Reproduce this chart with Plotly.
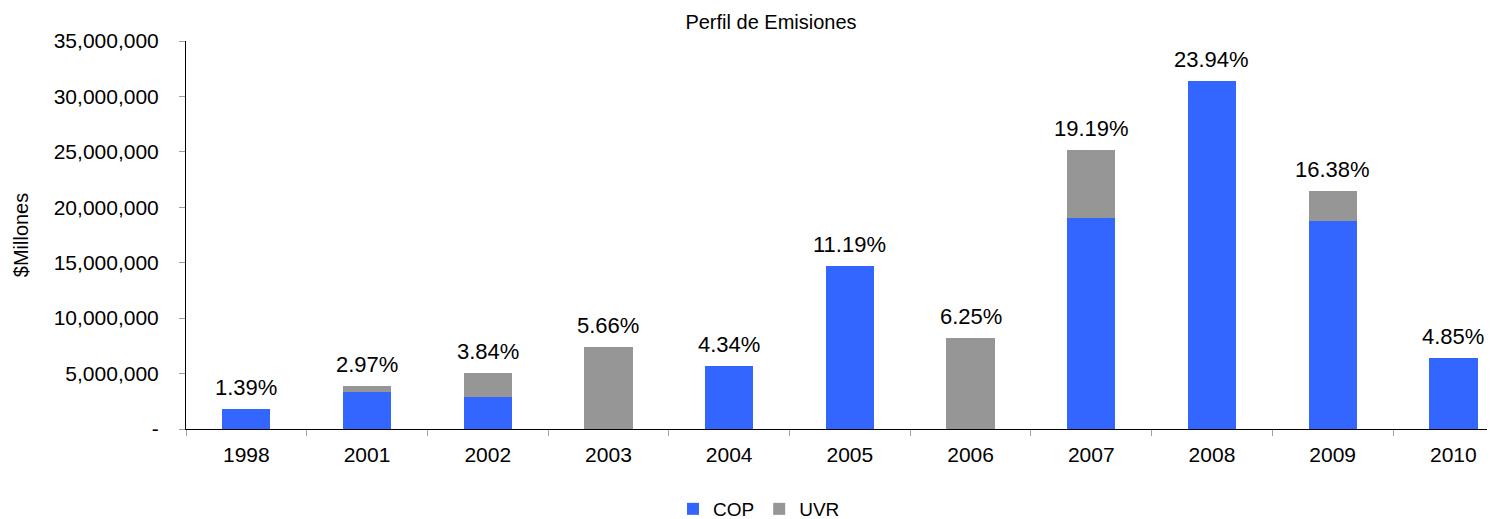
import plotly.graph_objects as go

years = ["1998", "2001", "2002", "2003", "2004", "2005", "2006", "2007", "2008", "2009", "2010"]
cop = [1.82e6, 3.34e6, 2.92e6, 0, 5.69e6, 14.68e6, 0, 19.06e6, 31.42e6, 18.76e6, 6.36e6]
uvr = [0, 0.52e6, 2.10e6, 7.43e6, 0, 0, 8.20e6, 6.12e6, 0, 2.72e6, 0]
pct_labels = ["1.39%", "2.97%", "3.84%", "5.66%", "4.34%", "11.19%", "6.25%", "19.19%", "23.94%", "16.38%", "4.85%"]
ytick_vals = [0, 5e6, 10e6, 15e6, 20e6, 25e6, 30e6, 35e6]
ytick_text = ["-", "5,000,000", "10,000,000", "15,000,000", "20,000,000", "25,000,000", "30,000,000", "35,000,000"]

FONT = "Liberation Sans, Arial, sans-serif"
OFF = 8  # page body margin
W, H = 1495 - OFF, 519 - OFF
L, R, T, B = 186 - OFF, 0, 41 - OFF, 90
PW, PH = W - L - R, H - T - B

fig = go.Figure()
fig.add_trace(go.Bar(x=years, y=cop, name="COP", marker=dict(color="#3366FF", line=dict(width=0)), width=0.4))
fig.add_trace(go.Bar(x=years, y=uvr, name="UVR", marker=dict(color="#969696", line=dict(width=0)), width=0.4))

totals = [c + u for c, u in zip(cop, uvr)]
for i, (tot, lab) in enumerate(zip(totals, pct_labels)):
    fig.add_annotation(x=i, y=tot, xref="x", yref="y", text=lab, showarrow=False, yanchor="bottom",
                       xanchor="center", yshift=7, font=dict(family=FONT, size=22, color="#000000"))

fig.update_layout(
    width=W, height=H,
    barmode="stack",
    paper_bgcolor="white", plot_bgcolor="white",
    margin=dict(l=L, r=R, t=T, b=B, autoexpand=False),
    font=dict(family=FONT, color="#000000"),
    title=dict(text="Perfil de Emisiones", x=(771 - OFF) / W, xanchor="center", xref="container",
               y=1 - (22 - OFF) / H, yanchor="middle", yref="container", font=dict(size=20, family=FONT)),
    legend=dict(orientation="h", x=(759 - 186) / PW, xanchor="center", y=-80 / PH, yanchor="middle",
                font=dict(size=19, family=FONT), itemsizing="constant", traceorder="normal"),
    xaxis=dict(type="category", range=[-0.5, 10.345], showline=True, linecolor="#000000", linewidth=1,
               ticks="outside", tickson="boundaries", ticklen=6, tickcolor="#a0a0a0",
               tickfont=dict(size=21, family=FONT), showgrid=False, zeroline=False, ticklabelstandoff=7),
    yaxis=dict(range=[0, 35e6], tickvals=ytick_vals, ticktext=ytick_text, showline=True,
               linecolor="#000000", linewidth=1, ticks="outside", ticklen=6, tickcolor="#a0a0a0",
               tickfont=dict(size=21, family=FONT), showgrid=False, zeroline=False, ticklabelstandoff=16,
               title=dict(text="$Millones", font=dict(size=20, family=FONT), standoff=19)),
)

fig.write_html("out.html")
